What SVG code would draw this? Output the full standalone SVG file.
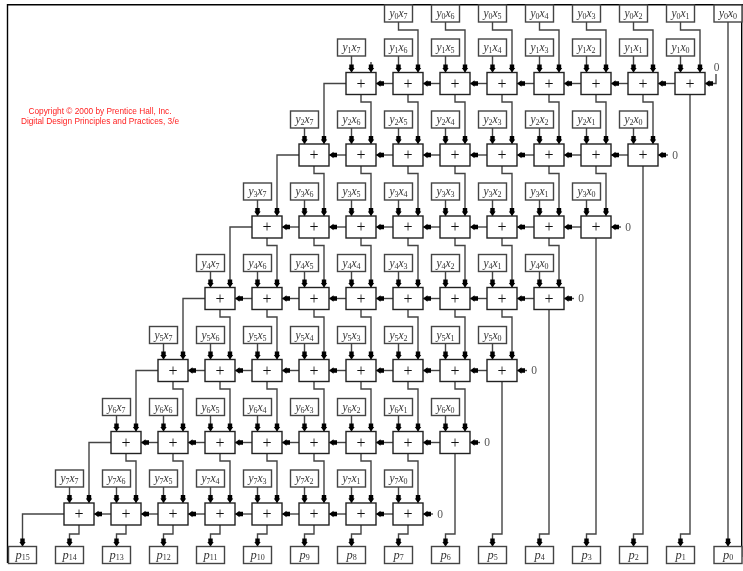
<svg xmlns="http://www.w3.org/2000/svg" width="743" height="571" viewBox="0 0 743 571">
<style>
.b{fill:#fff;stroke:#444;stroke-width:1.4}
.a{fill:#fff;stroke:#222;stroke-width:1.4}
.t{font-family:"Liberation Serif",serif;font-size:11.5px;fill:#333;text-anchor:middle}
.p{font-size:12.5px}
.i{font-style:italic}
.s{font-size:8px}
.o{font-family:"Liberation Serif",serif;font-size:16px;fill:#111;text-anchor:middle}
.z{font-family:"Liberation Serif",serif;font-size:11.5px;fill:#555;text-anchor:middle}
.c{font-family:"Liberation Sans",sans-serif;font-size:8.3px;fill:#f22;text-anchor:middle}
#connectors path{fill:none;stroke:#444;stroke-width:1.4;marker-end:url(#h)}
#frame path{fill:none;stroke:#000;stroke-width:1.4}
#connectors,#zeros,#adders,#inputs,#products,#copyright{filter:url(#soft)}
</style>
<defs>
<filter id="soft" filterUnits="userSpaceOnUse" x="0" y="0" width="743" height="571" color-interpolation-filters="sRGB"><feGaussianBlur stdDeviation="0.35"/></filter>
<marker id="h" markerUnits="userSpaceOnUse" markerWidth="10" markerHeight="8" viewBox="-9 -4 10 8" refX="0" refY="0" orient="auto"><path d="M-8-2.2H-4.5V-3.2L0 0L-4.5 3.2V2.2H-8Z" fill="#000"/></marker>
<rect id="ib" class="b" x="-14" y="-8.5" width="28" height="17"/>
<g id="ad"><rect class="a" x="-15" y="-11" width="30" height="22"/><text class="o" y="5">+</text></g>
</defs>
<g id="frame"><path d="M7.5 563V4.7H743"/><path d="M741.7 4.7V557"/></g>
<g id="copyright"><text class="c" x="100" y="114">Copyright © 2000 by Prentice Hall, Inc.</text><text class="c" x="100" y="123.5">Digital Design Principles and Practices, 3/e</text></g>
<g id="connectors">
<path d="M728 22V546.5"/>
<path d="M398.5 22V30H418V72.5"/><path d="M445.5 22V30H465V72.5"/><path d="M492.5 22V30H512V72.5"/><path d="M539.5 22V30H559V72.5"/><path d="M586.5 22V30H606V72.5"/><path d="M633.5 22V30H653V72.5"/><path d="M680.5 22V30H700V72.5"/>
<path d="M371 62V72.5"/>
<path d="M680.5 56V72.5"/><path d="M633.5 56V72.5"/><path d="M586.5 56V72.5"/><path d="M539.5 56V72.5"/><path d="M492.5 56V72.5"/><path d="M445.5 56V72.5"/><path d="M398.5 56V72.5"/><path d="M351.5 56V72.5"/>
<path d="M633.5 128V144"/><path d="M586.5 128V144"/><path d="M539.5 128V144"/><path d="M492.5 128V144"/><path d="M445.5 128V144"/><path d="M398.5 128V144"/><path d="M351.5 128V144"/><path d="M304.5 128V144"/>
<path d="M586.5 200V216"/><path d="M539.5 200V216"/><path d="M492.5 200V216"/><path d="M445.5 200V216"/><path d="M398.5 200V216"/><path d="M351.5 200V216"/><path d="M304.5 200V216"/><path d="M257.5 200V216"/>
<path d="M539.5 271.5V287.5"/><path d="M492.5 271.5V287.5"/><path d="M445.5 271.5V287.5"/><path d="M398.5 271.5V287.5"/><path d="M351.5 271.5V287.5"/><path d="M304.5 271.5V287.5"/><path d="M257.5 271.5V287.5"/><path d="M210.5 271.5V287.5"/>
<path d="M492.5 343.5V359.5"/><path d="M445.5 343.5V359.5"/><path d="M398.5 343.5V359.5"/><path d="M351.5 343.5V359.5"/><path d="M304.5 343.5V359.5"/><path d="M257.5 343.5V359.5"/><path d="M210.5 343.5V359.5"/><path d="M163.5 343.5V359.5"/>
<path d="M445.5 415.5V431.5"/><path d="M398.5 415.5V431.5"/><path d="M351.5 415.5V431.5"/><path d="M304.5 415.5V431.5"/><path d="M257.5 415.5V431.5"/><path d="M210.5 415.5V431.5"/><path d="M163.5 415.5V431.5"/><path d="M116.5 415.5V431.5"/>
<path d="M398.5 487V503"/><path d="M351.5 487V503"/><path d="M304.5 487V503"/><path d="M257.5 487V503"/><path d="M210.5 487V503"/><path d="M163.5 487V503"/><path d="M116.5 487V503"/><path d="M69.5 487V503"/>
<path d="M690 94.5V534H680.5V546.5"/><path d="M643 94.5V102H653V144"/><path d="M596 94.5V102H606V144"/><path d="M549 94.5V102H559V144"/><path d="M502 94.5V102H512V144"/><path d="M455 94.5V102H465V144"/><path d="M408 94.5V102H418V144"/><path d="M361 94.5V102H371V144"/><path d="M346 83.5H324V144"/>
<path d="M643 166V534H633.5V546.5"/><path d="M596 166V173.5H606V216"/><path d="M549 166V173.5H559V216"/><path d="M502 166V173.5H512V216"/><path d="M455 166V173.5H465V216"/><path d="M408 166V173.5H418V216"/><path d="M361 166V173.5H371V216"/><path d="M314 166V173.5H324V216"/><path d="M299 155H277V216"/>
<path d="M596 238V534H586.5V546.5"/><path d="M549 238V245.5H559V287.5"/><path d="M502 238V245.5H512V287.5"/><path d="M455 238V245.5H465V287.5"/><path d="M408 238V245.5H418V287.5"/><path d="M361 238V245.5H371V287.5"/><path d="M314 238V245.5H324V287.5"/><path d="M267 238V245.5H277V287.5"/><path d="M252 227H230V287.5"/>
<path d="M549 309.5V534H539.5V546.5"/><path d="M502 309.5V317H512V359.5"/><path d="M455 309.5V317H465V359.5"/><path d="M408 309.5V317H418V359.5"/><path d="M361 309.5V317H371V359.5"/><path d="M314 309.5V317H324V359.5"/><path d="M267 309.5V317H277V359.5"/><path d="M220 309.5V317H230V359.5"/><path d="M205 298.5H183V359.5"/>
<path d="M502 381.5V534H492.5V546.5"/><path d="M455 381.5V389H465V431.5"/><path d="M408 381.5V389H418V431.5"/><path d="M361 381.5V389H371V431.5"/><path d="M314 381.5V389H324V431.5"/><path d="M267 381.5V389H277V431.5"/><path d="M220 381.5V389H230V431.5"/><path d="M173 381.5V389H183V431.5"/><path d="M158 370.5H136V431.5"/>
<path d="M455 453.5V534H445.5V546.5"/><path d="M408 453.5V461H418V503"/><path d="M361 453.5V461H371V503"/><path d="M314 453.5V461H324V503"/><path d="M267 453.5V461H277V503"/><path d="M220 453.5V461H230V503"/><path d="M173 453.5V461H183V503"/><path d="M126 453.5V461H136V503"/><path d="M111 442.5H89V503"/>
<path d="M408 525V534H398.5V546.5"/><path d="M361 525V534H351.5V546.5"/><path d="M314 525V534H304.5V546.5"/><path d="M267 525V534H257.5V546.5"/><path d="M220 525V534H210.5V546.5"/><path d="M173 525V534H163.5V546.5"/><path d="M126 525V534H116.5V546.5"/><path d="M79 525V534H69.5V546.5"/><path d="M64 514H22.5V546.5"/>
<path d="M675 83.5H658"/><path d="M628 83.5H611"/><path d="M581 83.5H564"/><path d="M534 83.5H517"/><path d="M487 83.5H470"/><path d="M440 83.5H423"/><path d="M393 83.5H376"/>
<path d="M628 155H611"/><path d="M581 155H564"/><path d="M534 155H517"/><path d="M487 155H470"/><path d="M440 155H423"/><path d="M393 155H376"/><path d="M346 155H329"/>
<path d="M581 227H564"/><path d="M534 227H517"/><path d="M487 227H470"/><path d="M440 227H423"/><path d="M393 227H376"/><path d="M346 227H329"/><path d="M299 227H282"/>
<path d="M534 298.5H517"/><path d="M487 298.5H470"/><path d="M440 298.5H423"/><path d="M393 298.5H376"/><path d="M346 298.5H329"/><path d="M299 298.5H282"/><path d="M252 298.5H235"/>
<path d="M487 370.5H470"/><path d="M440 370.5H423"/><path d="M393 370.5H376"/><path d="M346 370.5H329"/><path d="M299 370.5H282"/><path d="M252 370.5H235"/><path d="M205 370.5H188"/>
<path d="M440 442.5H423"/><path d="M393 442.5H376"/><path d="M346 442.5H329"/><path d="M299 442.5H282"/><path d="M252 442.5H235"/><path d="M205 442.5H188"/><path d="M158 442.5H141"/>
<path d="M393 514H376"/><path d="M346 514H329"/><path d="M299 514H282"/><path d="M252 514H235"/><path d="M205 514H188"/><path d="M158 514H141"/><path d="M111 514H94"/>
<path d="M716 74V83.5H705"/><path d="M668 155H658"/><path d="M621 227H611"/><path d="M574 298.5H564"/><path d="M527 370.5H517"/><path d="M480 442.5H470"/><path d="M433 514H423"/>
</g>
<g id="zeros">
<text class="z" x="716.5" y="71">0</text><text class="z" x="675" y="158.5">0</text><text class="z" x="628" y="230.5">0</text><text class="z" x="581" y="302">0</text><text class="z" x="534" y="374">0</text><text class="z" x="487" y="446">0</text><text class="z" x="440" y="517.5">0</text>
</g>
<g id="adders">
<g id="a1-0" transform="translate(690 83.5)"><use href="#ad"/></g><g id="a1-1" transform="translate(643 83.5)"><use href="#ad"/></g><g id="a1-2" transform="translate(596 83.5)"><use href="#ad"/></g><g id="a1-3" transform="translate(549 83.5)"><use href="#ad"/></g><g id="a1-4" transform="translate(502 83.5)"><use href="#ad"/></g><g id="a1-5" transform="translate(455 83.5)"><use href="#ad"/></g><g id="a1-6" transform="translate(408 83.5)"><use href="#ad"/></g><g id="a1-7" transform="translate(361 83.5)"><use href="#ad"/></g>
<g id="a2-0" transform="translate(643 155)"><use href="#ad"/></g><g id="a2-1" transform="translate(596 155)"><use href="#ad"/></g><g id="a2-2" transform="translate(549 155)"><use href="#ad"/></g><g id="a2-3" transform="translate(502 155)"><use href="#ad"/></g><g id="a2-4" transform="translate(455 155)"><use href="#ad"/></g><g id="a2-5" transform="translate(408 155)"><use href="#ad"/></g><g id="a2-6" transform="translate(361 155)"><use href="#ad"/></g><g id="a2-7" transform="translate(314 155)"><use href="#ad"/></g>
<g id="a3-0" transform="translate(596 227)"><use href="#ad"/></g><g id="a3-1" transform="translate(549 227)"><use href="#ad"/></g><g id="a3-2" transform="translate(502 227)"><use href="#ad"/></g><g id="a3-3" transform="translate(455 227)"><use href="#ad"/></g><g id="a3-4" transform="translate(408 227)"><use href="#ad"/></g><g id="a3-5" transform="translate(361 227)"><use href="#ad"/></g><g id="a3-6" transform="translate(314 227)"><use href="#ad"/></g><g id="a3-7" transform="translate(267 227)"><use href="#ad"/></g>
<g id="a4-0" transform="translate(549 298.5)"><use href="#ad"/></g><g id="a4-1" transform="translate(502 298.5)"><use href="#ad"/></g><g id="a4-2" transform="translate(455 298.5)"><use href="#ad"/></g><g id="a4-3" transform="translate(408 298.5)"><use href="#ad"/></g><g id="a4-4" transform="translate(361 298.5)"><use href="#ad"/></g><g id="a4-5" transform="translate(314 298.5)"><use href="#ad"/></g><g id="a4-6" transform="translate(267 298.5)"><use href="#ad"/></g><g id="a4-7" transform="translate(220 298.5)"><use href="#ad"/></g>
<g id="a5-0" transform="translate(502 370.5)"><use href="#ad"/></g><g id="a5-1" transform="translate(455 370.5)"><use href="#ad"/></g><g id="a5-2" transform="translate(408 370.5)"><use href="#ad"/></g><g id="a5-3" transform="translate(361 370.5)"><use href="#ad"/></g><g id="a5-4" transform="translate(314 370.5)"><use href="#ad"/></g><g id="a5-5" transform="translate(267 370.5)"><use href="#ad"/></g><g id="a5-6" transform="translate(220 370.5)"><use href="#ad"/></g><g id="a5-7" transform="translate(173 370.5)"><use href="#ad"/></g>
<g id="a6-0" transform="translate(455 442.5)"><use href="#ad"/></g><g id="a6-1" transform="translate(408 442.5)"><use href="#ad"/></g><g id="a6-2" transform="translate(361 442.5)"><use href="#ad"/></g><g id="a6-3" transform="translate(314 442.5)"><use href="#ad"/></g><g id="a6-4" transform="translate(267 442.5)"><use href="#ad"/></g><g id="a6-5" transform="translate(220 442.5)"><use href="#ad"/></g><g id="a6-6" transform="translate(173 442.5)"><use href="#ad"/></g><g id="a6-7" transform="translate(126 442.5)"><use href="#ad"/></g>
<g id="a7-0" transform="translate(408 514)"><use href="#ad"/></g><g id="a7-1" transform="translate(361 514)"><use href="#ad"/></g><g id="a7-2" transform="translate(314 514)"><use href="#ad"/></g><g id="a7-3" transform="translate(267 514)"><use href="#ad"/></g><g id="a7-4" transform="translate(220 514)"><use href="#ad"/></g><g id="a7-5" transform="translate(173 514)"><use href="#ad"/></g><g id="a7-6" transform="translate(126 514)"><use href="#ad"/></g><g id="a7-7" transform="translate(79 514)"><use href="#ad"/></g>
</g>
<g id="inputs">
<g id="y0x7" transform="translate(398.5 13.5)"><use href="#ib"/><text class="t" y="3.5"><tspan class="i">y</tspan><tspan class="s" dy="2">0</tspan><tspan class="i" dy="-2">x</tspan><tspan class="s" dy="2">7</tspan></text></g>
<g id="y0x6" transform="translate(445.5 13.5)"><use href="#ib"/><text class="t" y="3.5"><tspan class="i">y</tspan><tspan class="s" dy="2">0</tspan><tspan class="i" dy="-2">x</tspan><tspan class="s" dy="2">6</tspan></text></g>
<g id="y0x5" transform="translate(492.5 13.5)"><use href="#ib"/><text class="t" y="3.5"><tspan class="i">y</tspan><tspan class="s" dy="2">0</tspan><tspan class="i" dy="-2">x</tspan><tspan class="s" dy="2">5</tspan></text></g>
<g id="y0x4" transform="translate(539.5 13.5)"><use href="#ib"/><text class="t" y="3.5"><tspan class="i">y</tspan><tspan class="s" dy="2">0</tspan><tspan class="i" dy="-2">x</tspan><tspan class="s" dy="2">4</tspan></text></g>
<g id="y0x3" transform="translate(586.5 13.5)"><use href="#ib"/><text class="t" y="3.5"><tspan class="i">y</tspan><tspan class="s" dy="2">0</tspan><tspan class="i" dy="-2">x</tspan><tspan class="s" dy="2">3</tspan></text></g>
<g id="y0x2" transform="translate(633.5 13.5)"><use href="#ib"/><text class="t" y="3.5"><tspan class="i">y</tspan><tspan class="s" dy="2">0</tspan><tspan class="i" dy="-2">x</tspan><tspan class="s" dy="2">2</tspan></text></g>
<g id="y0x1" transform="translate(680.5 13.5)"><use href="#ib"/><text class="t" y="3.5"><tspan class="i">y</tspan><tspan class="s" dy="2">0</tspan><tspan class="i" dy="-2">x</tspan><tspan class="s" dy="2">1</tspan></text></g>
<g id="y0x0" transform="translate(728 13.5)"><use href="#ib"/><text class="t" y="3.5"><tspan class="i">y</tspan><tspan class="s" dy="2">0</tspan><tspan class="i" dy="-2">x</tspan><tspan class="s" dy="2">0</tspan></text></g>
<g id="y1x7" transform="translate(351.5 47.5)"><use href="#ib"/><text class="t" y="3.5"><tspan class="i">y</tspan><tspan class="s" dy="2">1</tspan><tspan class="i" dy="-2">x</tspan><tspan class="s" dy="2">7</tspan></text></g>
<g id="y1x6" transform="translate(398.5 47.5)"><use href="#ib"/><text class="t" y="3.5"><tspan class="i">y</tspan><tspan class="s" dy="2">1</tspan><tspan class="i" dy="-2">x</tspan><tspan class="s" dy="2">6</tspan></text></g>
<g id="y1x5" transform="translate(445.5 47.5)"><use href="#ib"/><text class="t" y="3.5"><tspan class="i">y</tspan><tspan class="s" dy="2">1</tspan><tspan class="i" dy="-2">x</tspan><tspan class="s" dy="2">5</tspan></text></g>
<g id="y1x4" transform="translate(492.5 47.5)"><use href="#ib"/><text class="t" y="3.5"><tspan class="i">y</tspan><tspan class="s" dy="2">1</tspan><tspan class="i" dy="-2">x</tspan><tspan class="s" dy="2">4</tspan></text></g>
<g id="y1x3" transform="translate(539.5 47.5)"><use href="#ib"/><text class="t" y="3.5"><tspan class="i">y</tspan><tspan class="s" dy="2">1</tspan><tspan class="i" dy="-2">x</tspan><tspan class="s" dy="2">3</tspan></text></g>
<g id="y1x2" transform="translate(586.5 47.5)"><use href="#ib"/><text class="t" y="3.5"><tspan class="i">y</tspan><tspan class="s" dy="2">1</tspan><tspan class="i" dy="-2">x</tspan><tspan class="s" dy="2">2</tspan></text></g>
<g id="y1x1" transform="translate(633.5 47.5)"><use href="#ib"/><text class="t" y="3.5"><tspan class="i">y</tspan><tspan class="s" dy="2">1</tspan><tspan class="i" dy="-2">x</tspan><tspan class="s" dy="2">1</tspan></text></g>
<g id="y1x0" transform="translate(680.5 47.5)"><use href="#ib"/><text class="t" y="3.5"><tspan class="i">y</tspan><tspan class="s" dy="2">1</tspan><tspan class="i" dy="-2">x</tspan><tspan class="s" dy="2">0</tspan></text></g>
<g id="y2x7" transform="translate(304.5 119.5)"><use href="#ib"/><text class="t" y="3.5"><tspan class="i">y</tspan><tspan class="s" dy="2">2</tspan><tspan class="i" dy="-2">x</tspan><tspan class="s" dy="2">7</tspan></text></g>
<g id="y2x6" transform="translate(351.5 119.5)"><use href="#ib"/><text class="t" y="3.5"><tspan class="i">y</tspan><tspan class="s" dy="2">2</tspan><tspan class="i" dy="-2">x</tspan><tspan class="s" dy="2">6</tspan></text></g>
<g id="y2x5" transform="translate(398.5 119.5)"><use href="#ib"/><text class="t" y="3.5"><tspan class="i">y</tspan><tspan class="s" dy="2">2</tspan><tspan class="i" dy="-2">x</tspan><tspan class="s" dy="2">5</tspan></text></g>
<g id="y2x4" transform="translate(445.5 119.5)"><use href="#ib"/><text class="t" y="3.5"><tspan class="i">y</tspan><tspan class="s" dy="2">2</tspan><tspan class="i" dy="-2">x</tspan><tspan class="s" dy="2">4</tspan></text></g>
<g id="y2x3" transform="translate(492.5 119.5)"><use href="#ib"/><text class="t" y="3.5"><tspan class="i">y</tspan><tspan class="s" dy="2">2</tspan><tspan class="i" dy="-2">x</tspan><tspan class="s" dy="2">3</tspan></text></g>
<g id="y2x2" transform="translate(539.5 119.5)"><use href="#ib"/><text class="t" y="3.5"><tspan class="i">y</tspan><tspan class="s" dy="2">2</tspan><tspan class="i" dy="-2">x</tspan><tspan class="s" dy="2">2</tspan></text></g>
<g id="y2x1" transform="translate(586.5 119.5)"><use href="#ib"/><text class="t" y="3.5"><tspan class="i">y</tspan><tspan class="s" dy="2">2</tspan><tspan class="i" dy="-2">x</tspan><tspan class="s" dy="2">1</tspan></text></g>
<g id="y2x0" transform="translate(633.5 119.5)"><use href="#ib"/><text class="t" y="3.5"><tspan class="i">y</tspan><tspan class="s" dy="2">2</tspan><tspan class="i" dy="-2">x</tspan><tspan class="s" dy="2">0</tspan></text></g>
<g id="y3x7" transform="translate(257.5 191.5)"><use href="#ib"/><text class="t" y="3.5"><tspan class="i">y</tspan><tspan class="s" dy="2">3</tspan><tspan class="i" dy="-2">x</tspan><tspan class="s" dy="2">7</tspan></text></g>
<g id="y3x6" transform="translate(304.5 191.5)"><use href="#ib"/><text class="t" y="3.5"><tspan class="i">y</tspan><tspan class="s" dy="2">3</tspan><tspan class="i" dy="-2">x</tspan><tspan class="s" dy="2">6</tspan></text></g>
<g id="y3x5" transform="translate(351.5 191.5)"><use href="#ib"/><text class="t" y="3.5"><tspan class="i">y</tspan><tspan class="s" dy="2">3</tspan><tspan class="i" dy="-2">x</tspan><tspan class="s" dy="2">5</tspan></text></g>
<g id="y3x4" transform="translate(398.5 191.5)"><use href="#ib"/><text class="t" y="3.5"><tspan class="i">y</tspan><tspan class="s" dy="2">3</tspan><tspan class="i" dy="-2">x</tspan><tspan class="s" dy="2">4</tspan></text></g>
<g id="y3x3" transform="translate(445.5 191.5)"><use href="#ib"/><text class="t" y="3.5"><tspan class="i">y</tspan><tspan class="s" dy="2">3</tspan><tspan class="i" dy="-2">x</tspan><tspan class="s" dy="2">3</tspan></text></g>
<g id="y3x2" transform="translate(492.5 191.5)"><use href="#ib"/><text class="t" y="3.5"><tspan class="i">y</tspan><tspan class="s" dy="2">3</tspan><tspan class="i" dy="-2">x</tspan><tspan class="s" dy="2">2</tspan></text></g>
<g id="y3x1" transform="translate(539.5 191.5)"><use href="#ib"/><text class="t" y="3.5"><tspan class="i">y</tspan><tspan class="s" dy="2">3</tspan><tspan class="i" dy="-2">x</tspan><tspan class="s" dy="2">1</tspan></text></g>
<g id="y3x0" transform="translate(586.5 191.5)"><use href="#ib"/><text class="t" y="3.5"><tspan class="i">y</tspan><tspan class="s" dy="2">3</tspan><tspan class="i" dy="-2">x</tspan><tspan class="s" dy="2">0</tspan></text></g>
<g id="y4x7" transform="translate(210.5 263)"><use href="#ib"/><text class="t" y="3.5"><tspan class="i">y</tspan><tspan class="s" dy="2">4</tspan><tspan class="i" dy="-2">x</tspan><tspan class="s" dy="2">7</tspan></text></g>
<g id="y4x6" transform="translate(257.5 263)"><use href="#ib"/><text class="t" y="3.5"><tspan class="i">y</tspan><tspan class="s" dy="2">4</tspan><tspan class="i" dy="-2">x</tspan><tspan class="s" dy="2">6</tspan></text></g>
<g id="y4x5" transform="translate(304.5 263)"><use href="#ib"/><text class="t" y="3.5"><tspan class="i">y</tspan><tspan class="s" dy="2">4</tspan><tspan class="i" dy="-2">x</tspan><tspan class="s" dy="2">5</tspan></text></g>
<g id="y4x4" transform="translate(351.5 263)"><use href="#ib"/><text class="t" y="3.5"><tspan class="i">y</tspan><tspan class="s" dy="2">4</tspan><tspan class="i" dy="-2">x</tspan><tspan class="s" dy="2">4</tspan></text></g>
<g id="y4x3" transform="translate(398.5 263)"><use href="#ib"/><text class="t" y="3.5"><tspan class="i">y</tspan><tspan class="s" dy="2">4</tspan><tspan class="i" dy="-2">x</tspan><tspan class="s" dy="2">3</tspan></text></g>
<g id="y4x2" transform="translate(445.5 263)"><use href="#ib"/><text class="t" y="3.5"><tspan class="i">y</tspan><tspan class="s" dy="2">4</tspan><tspan class="i" dy="-2">x</tspan><tspan class="s" dy="2">2</tspan></text></g>
<g id="y4x1" transform="translate(492.5 263)"><use href="#ib"/><text class="t" y="3.5"><tspan class="i">y</tspan><tspan class="s" dy="2">4</tspan><tspan class="i" dy="-2">x</tspan><tspan class="s" dy="2">1</tspan></text></g>
<g id="y4x0" transform="translate(539.5 263)"><use href="#ib"/><text class="t" y="3.5"><tspan class="i">y</tspan><tspan class="s" dy="2">4</tspan><tspan class="i" dy="-2">x</tspan><tspan class="s" dy="2">0</tspan></text></g>
<g id="y5x7" transform="translate(163.5 335)"><use href="#ib"/><text class="t" y="3.5"><tspan class="i">y</tspan><tspan class="s" dy="2">5</tspan><tspan class="i" dy="-2">x</tspan><tspan class="s" dy="2">7</tspan></text></g>
<g id="y5x6" transform="translate(210.5 335)"><use href="#ib"/><text class="t" y="3.5"><tspan class="i">y</tspan><tspan class="s" dy="2">5</tspan><tspan class="i" dy="-2">x</tspan><tspan class="s" dy="2">6</tspan></text></g>
<g id="y5x5" transform="translate(257.5 335)"><use href="#ib"/><text class="t" y="3.5"><tspan class="i">y</tspan><tspan class="s" dy="2">5</tspan><tspan class="i" dy="-2">x</tspan><tspan class="s" dy="2">5</tspan></text></g>
<g id="y5x4" transform="translate(304.5 335)"><use href="#ib"/><text class="t" y="3.5"><tspan class="i">y</tspan><tspan class="s" dy="2">5</tspan><tspan class="i" dy="-2">x</tspan><tspan class="s" dy="2">4</tspan></text></g>
<g id="y5x3" transform="translate(351.5 335)"><use href="#ib"/><text class="t" y="3.5"><tspan class="i">y</tspan><tspan class="s" dy="2">5</tspan><tspan class="i" dy="-2">x</tspan><tspan class="s" dy="2">3</tspan></text></g>
<g id="y5x2" transform="translate(398.5 335)"><use href="#ib"/><text class="t" y="3.5"><tspan class="i">y</tspan><tspan class="s" dy="2">5</tspan><tspan class="i" dy="-2">x</tspan><tspan class="s" dy="2">2</tspan></text></g>
<g id="y5x1" transform="translate(445.5 335)"><use href="#ib"/><text class="t" y="3.5"><tspan class="i">y</tspan><tspan class="s" dy="2">5</tspan><tspan class="i" dy="-2">x</tspan><tspan class="s" dy="2">1</tspan></text></g>
<g id="y5x0" transform="translate(492.5 335)"><use href="#ib"/><text class="t" y="3.5"><tspan class="i">y</tspan><tspan class="s" dy="2">5</tspan><tspan class="i" dy="-2">x</tspan><tspan class="s" dy="2">0</tspan></text></g>
<g id="y6x7" transform="translate(116.5 407)"><use href="#ib"/><text class="t" y="3.5"><tspan class="i">y</tspan><tspan class="s" dy="2">6</tspan><tspan class="i" dy="-2">x</tspan><tspan class="s" dy="2">7</tspan></text></g>
<g id="y6x6" transform="translate(163.5 407)"><use href="#ib"/><text class="t" y="3.5"><tspan class="i">y</tspan><tspan class="s" dy="2">6</tspan><tspan class="i" dy="-2">x</tspan><tspan class="s" dy="2">6</tspan></text></g>
<g id="y6x5" transform="translate(210.5 407)"><use href="#ib"/><text class="t" y="3.5"><tspan class="i">y</tspan><tspan class="s" dy="2">6</tspan><tspan class="i" dy="-2">x</tspan><tspan class="s" dy="2">5</tspan></text></g>
<g id="y6x4" transform="translate(257.5 407)"><use href="#ib"/><text class="t" y="3.5"><tspan class="i">y</tspan><tspan class="s" dy="2">6</tspan><tspan class="i" dy="-2">x</tspan><tspan class="s" dy="2">4</tspan></text></g>
<g id="y6x3" transform="translate(304.5 407)"><use href="#ib"/><text class="t" y="3.5"><tspan class="i">y</tspan><tspan class="s" dy="2">6</tspan><tspan class="i" dy="-2">x</tspan><tspan class="s" dy="2">3</tspan></text></g>
<g id="y6x2" transform="translate(351.5 407)"><use href="#ib"/><text class="t" y="3.5"><tspan class="i">y</tspan><tspan class="s" dy="2">6</tspan><tspan class="i" dy="-2">x</tspan><tspan class="s" dy="2">2</tspan></text></g>
<g id="y6x1" transform="translate(398.5 407)"><use href="#ib"/><text class="t" y="3.5"><tspan class="i">y</tspan><tspan class="s" dy="2">6</tspan><tspan class="i" dy="-2">x</tspan><tspan class="s" dy="2">1</tspan></text></g>
<g id="y6x0" transform="translate(445.5 407)"><use href="#ib"/><text class="t" y="3.5"><tspan class="i">y</tspan><tspan class="s" dy="2">6</tspan><tspan class="i" dy="-2">x</tspan><tspan class="s" dy="2">0</tspan></text></g>
<g id="y7x7" transform="translate(69.5 478.5)"><use href="#ib"/><text class="t" y="3.5"><tspan class="i">y</tspan><tspan class="s" dy="2">7</tspan><tspan class="i" dy="-2">x</tspan><tspan class="s" dy="2">7</tspan></text></g>
<g id="y7x6" transform="translate(116.5 478.5)"><use href="#ib"/><text class="t" y="3.5"><tspan class="i">y</tspan><tspan class="s" dy="2">7</tspan><tspan class="i" dy="-2">x</tspan><tspan class="s" dy="2">6</tspan></text></g>
<g id="y7x5" transform="translate(163.5 478.5)"><use href="#ib"/><text class="t" y="3.5"><tspan class="i">y</tspan><tspan class="s" dy="2">7</tspan><tspan class="i" dy="-2">x</tspan><tspan class="s" dy="2">5</tspan></text></g>
<g id="y7x4" transform="translate(210.5 478.5)"><use href="#ib"/><text class="t" y="3.5"><tspan class="i">y</tspan><tspan class="s" dy="2">7</tspan><tspan class="i" dy="-2">x</tspan><tspan class="s" dy="2">4</tspan></text></g>
<g id="y7x3" transform="translate(257.5 478.5)"><use href="#ib"/><text class="t" y="3.5"><tspan class="i">y</tspan><tspan class="s" dy="2">7</tspan><tspan class="i" dy="-2">x</tspan><tspan class="s" dy="2">3</tspan></text></g>
<g id="y7x2" transform="translate(304.5 478.5)"><use href="#ib"/><text class="t" y="3.5"><tspan class="i">y</tspan><tspan class="s" dy="2">7</tspan><tspan class="i" dy="-2">x</tspan><tspan class="s" dy="2">2</tspan></text></g>
<g id="y7x1" transform="translate(351.5 478.5)"><use href="#ib"/><text class="t" y="3.5"><tspan class="i">y</tspan><tspan class="s" dy="2">7</tspan><tspan class="i" dy="-2">x</tspan><tspan class="s" dy="2">1</tspan></text></g>
<g id="y7x0" transform="translate(398.5 478.5)"><use href="#ib"/><text class="t" y="3.5"><tspan class="i">y</tspan><tspan class="s" dy="2">7</tspan><tspan class="i" dy="-2">x</tspan><tspan class="s" dy="2">0</tspan></text></g>
</g>
<g id="products">
<g id="p15" transform="translate(22.5 555)"><use href="#ib"/><text class="t p" y="3.5"><tspan class="i">p</tspan><tspan class="s" dy="1">15</tspan></text></g>
<g id="p14" transform="translate(69.5 555)"><use href="#ib"/><text class="t p" y="3.5"><tspan class="i">p</tspan><tspan class="s" dy="1">14</tspan></text></g>
<g id="p13" transform="translate(116.5 555)"><use href="#ib"/><text class="t p" y="3.5"><tspan class="i">p</tspan><tspan class="s" dy="1">13</tspan></text></g>
<g id="p12" transform="translate(163.5 555)"><use href="#ib"/><text class="t p" y="3.5"><tspan class="i">p</tspan><tspan class="s" dy="1">12</tspan></text></g>
<g id="p11" transform="translate(210.5 555)"><use href="#ib"/><text class="t p" y="3.5"><tspan class="i">p</tspan><tspan class="s" dy="1">11</tspan></text></g>
<g id="p10" transform="translate(257.5 555)"><use href="#ib"/><text class="t p" y="3.5"><tspan class="i">p</tspan><tspan class="s" dy="1">10</tspan></text></g>
<g id="p9" transform="translate(304.5 555)"><use href="#ib"/><text class="t p" y="3.5"><tspan class="i">p</tspan><tspan class="s" dy="1">9</tspan></text></g>
<g id="p8" transform="translate(351.5 555)"><use href="#ib"/><text class="t p" y="3.5"><tspan class="i">p</tspan><tspan class="s" dy="1">8</tspan></text></g>
<g id="p7" transform="translate(398.5 555)"><use href="#ib"/><text class="t p" y="3.5"><tspan class="i">p</tspan><tspan class="s" dy="1">7</tspan></text></g>
<g id="p6" transform="translate(445.5 555)"><use href="#ib"/><text class="t p" y="3.5"><tspan class="i">p</tspan><tspan class="s" dy="1">6</tspan></text></g>
<g id="p5" transform="translate(492.5 555)"><use href="#ib"/><text class="t p" y="3.5"><tspan class="i">p</tspan><tspan class="s" dy="1">5</tspan></text></g>
<g id="p4" transform="translate(539.5 555)"><use href="#ib"/><text class="t p" y="3.5"><tspan class="i">p</tspan><tspan class="s" dy="1">4</tspan></text></g>
<g id="p3" transform="translate(586.5 555)"><use href="#ib"/><text class="t p" y="3.5"><tspan class="i">p</tspan><tspan class="s" dy="1">3</tspan></text></g>
<g id="p2" transform="translate(633.5 555)"><use href="#ib"/><text class="t p" y="3.5"><tspan class="i">p</tspan><tspan class="s" dy="1">2</tspan></text></g>
<g id="p1" transform="translate(680.5 555)"><use href="#ib"/><text class="t p" y="3.5"><tspan class="i">p</tspan><tspan class="s" dy="1">1</tspan></text></g>
<g id="p0" transform="translate(728 555)"><use href="#ib"/><text class="t p" y="3.5"><tspan class="i">p</tspan><tspan class="s" dy="1">0</tspan></text></g>
</g>
</svg>
